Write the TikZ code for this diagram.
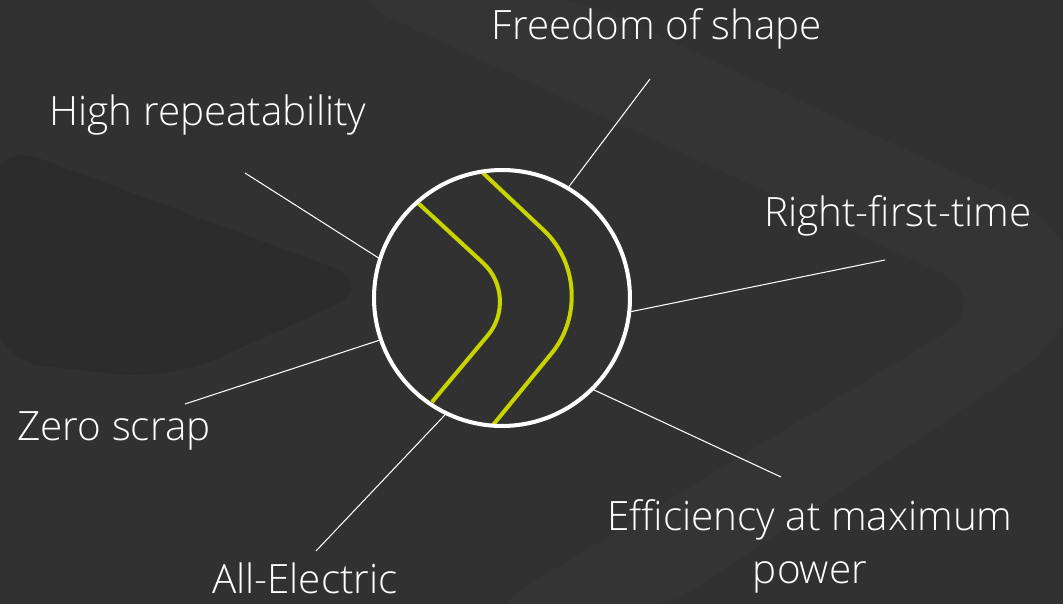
\documentclass[tikz,border=0pt]{standalone}
\usepackage{fontspec}
\setmainfont{Open Sans}[UprightFont=* Light]
\definecolor{bg}{HTML}{313131}
\definecolor{bgdark}{HTML}{2C2C2C}
\definecolor{bglight}{HTML}{343434}
\definecolor{lime}{HTML}{C8D400}
\tikzset{
  feat/.style={text=white,font=\fontsize{23}{30.6}\selectfont,anchor=base,inner sep=0pt},
  spoke/.style={white,line width=.6pt},
  chevron/.style={lime,line width=2.3pt},
}
\begin{document}
\begin{tikzpicture}[x=.02cm,y=-.02cm]
\fill[bg] (0,0) rectangle (1063,604);
\useasboundingbox (0,0) rectangle (1063,604);
% faint background chevrons
\fill[bglight,rounded corners=40pt] (330,-10)--(1000,300)--(470,620)--(650,620)--(1080,330)--(1080,230)--(560,-10)--cycle;
\fill[bgdark,rounded corners=30pt] (-10,140)--(380,285)--(170,380)--(-10,360)--cycle;
% ring with the two chevrons
\draw[chevron,rounded corners=1cm] (418,203)--(520,297)--(432,402);
\draw[chevron,rounded corners=1.68cm] (483,173)--(605,288)--(493,425);
\node[draw=white,line width=2.3pt,circle,minimum size=5.12cm,inner sep=0pt] (ring) at (502,298) {};
% labels
\node[feat] (fre) at (657,40) {Freedom of shape};
\node[feat] (hig) at (208,126) {High repeatability};
\node[feat] (rig) at (898,227) {Right-first-time};
\node[feat] (zer) at (114,441) {Zero scrap};
\node[feat] (ele) at (305,594) {All-Electric};
\node[feat,align=center] (eff) at (810,584) {Efficiency at maximum\\power};
% spokes
\coordinate (fre-e) at (650,79);
\coordinate (hig-e) at (245,173);
\coordinate (rig-e) at (885,260);
\coordinate (zer-e) at (185,404);
\coordinate (ele-e) at (316,551);
\coordinate (eff-e) at (781,477);
\draw[spoke] (fre-e)--(ring.59) (hig-e)--(ring.162) (rig-e)--(ring.-6.5)
  (zer-e)--(ring.199.5) (ele-e)--(ring.244.6) (eff-e)--(ring.-45);
\end{tikzpicture}
\end{document}
